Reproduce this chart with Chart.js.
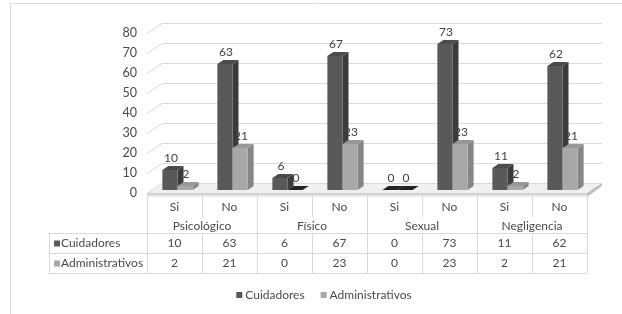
<!DOCTYPE html>
<html>
<head>
<meta charset="utf-8">
<script src="https://cdn.jsdelivr.net/npm/chart.js@4.4.0/dist/chart.umd.min.js"></script>
<style>
  html, body { margin: 0; padding: 0; background: #fff; }
</style>
</head>
<body>
<canvas id="chart" width="622" height="314"></canvas>
<script>
// data
const categories = ["Si", "No", "Si", "No", "Si", "No", "Si", "No"];
const groups = ["Psicológico", "Físico", "Sexual", "Negligencia"];
const seriesNames = ["Cuidadores", "Administrativos"];
const cuidadores = [10, 63, 6, 67, 0, 73, 11, 62];
const administrativos = [2, 21, 0, 23, 0, 23, 2, 21];
const yMax = 80;
const yStep = 10;

const FONT = "12px Lato";
const TEXT = "#4a4a4a";
const LINE = "#d9d9d9";
const WALL = { dx: 15, dy: -10 };   // back wall offset
const SHIFT = { dx: 3, dy: -3 };    // bar plane offset
const DEPTH = { dx: 6, dy: -4 };    // bar depth
const faces = [
  { front: "#595959", side: "#3b3b3b", top: "#4b4b4b" },
  { front: "#a8a8a8", side: "#868686", top: "#979797" }
];

function poly(ctx, pts, fill) {
  ctx.beginPath();
  ctx.moveTo(pts[0][0], pts[0][1]);
  for (let i = 1; i < pts.length; i++) ctx.lineTo(pts[i][0], pts[i][1]);
  ctx.closePath();
  ctx.fillStyle = fill;
  ctx.fill();
}

const scene = {
  id: "scene",
  beforeDraw(chart) {
    const { ctx, chartArea: a, scales: { y } } = chart;
    ctx.save();
    ctx.fillStyle = "#fff";
    ctx.fillRect(0, 0, chart.width, chart.height);

    // outer frame
    ctx.strokeStyle = LINE;
    ctx.lineWidth = 1;
    ctx.beginPath();
    ctx.moveTo(10.5, chart.height);
    ctx.lineTo(10.5, 3.5);
    ctx.lineTo(chart.width, 3.5);
    ctx.stroke();

    // floor
    const fy = y.getPixelForValue(0);
    poly(ctx, [[a.left, fy], [a.right, fy], [a.right + WALL.dx, fy + WALL.dy], [a.left + WALL.dx, fy + WALL.dy]], "#f0f0f0");
    const g = ctx.createLinearGradient(0, fy, 0, fy + 4);
    g.addColorStop(0, "#c8c8c8");
    g.addColorStop(1, "#f4f4f4");
    ctx.fillStyle = g;
    ctx.fillRect(a.left, fy, a.right - a.left, 4);
    poly(ctx, [[a.right, fy], [a.right + WALL.dx, fy + WALL.dy], [a.right + WALL.dx, fy + WALL.dy + 3], [a.right, fy + 4]], "#bdbdbd");

    // perspective gridlines
    ctx.strokeStyle = LINE;
    y.ticks.forEach(t => {
      const py = Math.round(y.getPixelForValue(t.value)) + 0.5;
      ctx.beginPath();
      ctx.moveTo(a.left, py);
      ctx.lineTo(a.left + WALL.dx, py + WALL.dy);
      ctx.lineTo(a.right + WALL.dx, py + WALL.dy);
      ctx.stroke();
    });
    ctx.restore();
  },
  beforeDatasetsDraw() {
    return false;
  },
  afterDraw(chart) {
    const { ctx, chartArea: a, scales: { y } } = chart;
    const fy = y.getPixelForValue(0);
    ctx.save();

    // 3d columns
    const labels = [];
    for (let i = 0; i < categories.length; i++) {
      for (let d = 0; d < chart.data.datasets.length; d++) {
        const bar = chart.getDatasetMeta(d).data[i];
        const p = bar.getProps(["x", "y", "base", "width"], true);
        const l = p.x - p.width / 2 + SHIFT.dx, r = p.x + p.width / 2 + SHIFT.dx;
        const t = p.y + SHIFT.dy, b = p.base + SHIFT.dy;
        const c = faces[d];
        const v = chart.data.datasets[d].data[i];
        if (v === 0) {
          poly(ctx, [[l, b], [r, b], [r + DEPTH.dx, b + DEPTH.dy], [l + DEPTH.dx, b + DEPTH.dy]], "#222");
        } else {
          poly(ctx, [[r, t], [r + DEPTH.dx, t + DEPTH.dy], [r + DEPTH.dx, b + DEPTH.dy], [r, b]], c.side);
          poly(ctx, [[l, t], [l + DEPTH.dx, t + DEPTH.dy], [r + DEPTH.dx, t + DEPTH.dy], [r, t]], c.top);
          ctx.fillStyle = c.front;
          ctx.fillRect(l, t, r - l, b - t);
        }
        labels.push([String(v), (l + r) / 2 + 1, t - 12]);
      }
    }
    ctx.font = FONT;
    ctx.fillStyle = "#3f3f3f";
    ctx.textAlign = "center";
    ctx.textBaseline = "middle";
    labels.forEach(([s, x, yy]) => ctx.fillText(s, x, yy));

    // data table
    const n = categories.length, cw = (a.right - a.left) / n;
    const top = Math.round(fy) + 2, split = top + 22, r1 = top + 38, r2 = r1 + 20, r3 = r2 + 20;
    const tableLeft = 49;
    ctx.strokeStyle = LINE;
    ctx.lineWidth = 1;
    ctx.beginPath();
    for (let i = 0; i <= n; i++) {
      const x = Math.round(a.left + i * cw) + 0.5;
      if (i % 2 === 0) {
        ctx.moveTo(x, top); ctx.lineTo(x, r3);
      } else {
        ctx.moveTo(x, top); ctx.lineTo(x, split);
        ctx.moveTo(x, r1); ctx.lineTo(x, r3);
      }
    }
    [r1, r2, r3].forEach(yy => { ctx.moveTo(tableLeft, yy + 0.5); ctx.lineTo(a.right, yy + 0.5); });
    ctx.moveTo(tableLeft + 0.5, r1); ctx.lineTo(tableLeft + 0.5, r3);
    ctx.stroke();

    ctx.fillStyle = TEXT;
    categories.forEach((s, i) => ctx.fillText(s, a.left + (i + 0.5) * cw, top + 12));
    groups.forEach((s, i) => ctx.fillText(s, a.left + (2 * i + 1) * cw, top + 31));
    const rows = [cuidadores, administrativos];
    rows.forEach((vals, d) => {
      const yy = (d === 0 ? r1 : r2) + 10.5;
      vals.forEach((v, i) => ctx.fillText(String(v), a.left + (i + 0.5) * cw, yy));
      ctx.fillStyle = faces[d].front;
      ctx.fillRect(tableLeft + 5, yy - 3, 6, 6);
      ctx.fillStyle = TEXT;
      ctx.textAlign = "left";
      ctx.fillText(seriesNames[d], tableLeft + 12, yy);
      ctx.textAlign = "center";
    });

    // legend
    const gap = 16;
    const widths = seriesNames.map(s => 6 + 3 + ctx.measureText(s).width);
    let lx = 324 - (widths[0] + widths[1] + gap) / 2;
    const ly = 295;
    ctx.textAlign = "left";
    seriesNames.forEach((s, d) => {
      ctx.fillStyle = faces[d].front;
      ctx.fillRect(lx, ly - 3, 6, 6);
      ctx.fillStyle = TEXT;
      ctx.fillText(s, lx + 9, ly);
      lx += widths[d] + gap;
    });
    ctx.restore();
  }
};

new Chart(document.getElementById("chart"), {
  type: "bar",
  data: {
    labels: categories,
    datasets: [
      { label: seriesNames[0], data: cuidadores, backgroundColor: faces[0].front },
      { label: seriesNames[1], data: administrativos, backgroundColor: faces[1].front }
    ]
  },
  options: {
    responsive: false,
    animation: false,
    events: [],
    layout: { padding: { left: 50, right: 35, top: 33, bottom: 121 } },
    datasets: { bar: { categoryPercentage: 0.55, barPercentage: 1 } },
    plugins: { legend: { display: false }, tooltip: { enabled: false } },
    scales: {
      x: { display: false },
      y: {
        min: 0,
        max: yMax,
        afterFit(scale) { scale.width = 97; },
        ticks: { stepSize: yStep, padding: 10, color: TEXT, font: { family: "Lato", size: 12.5 } },
        grid: { display: false, drawTicks: false },
        border: { display: false }
      }
    }
  },
  plugins: [scene]
});
</script>
</body>
</html>
